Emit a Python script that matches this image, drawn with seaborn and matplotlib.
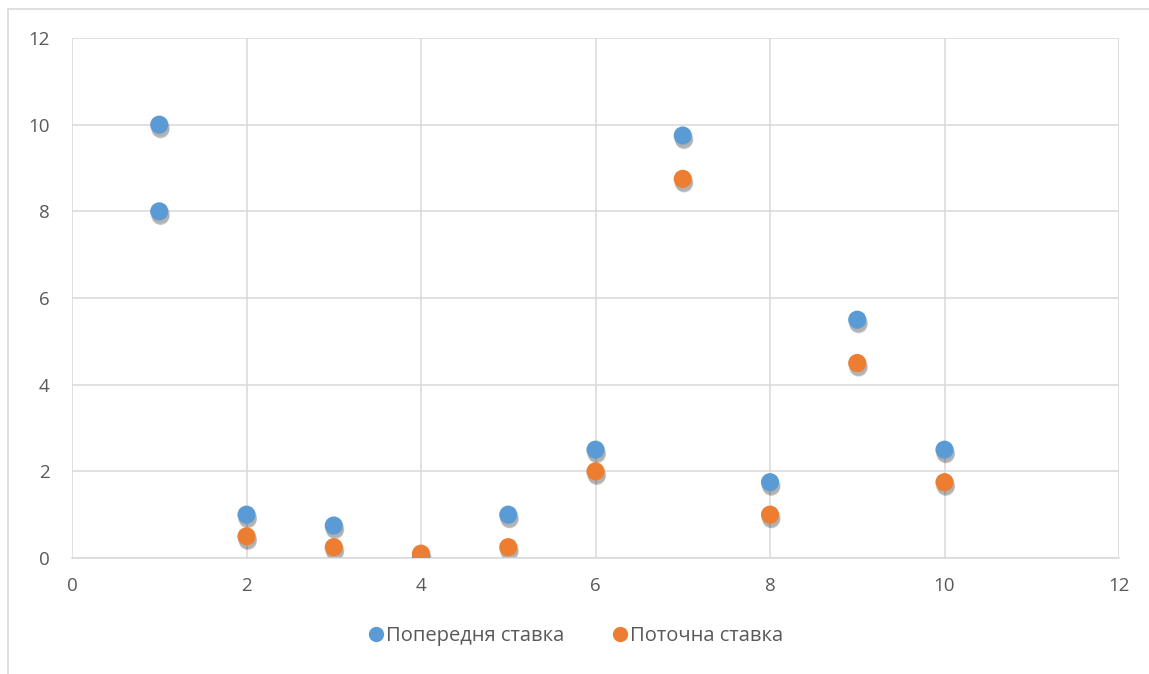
import matplotlib
matplotlib.use("Agg")
import matplotlib.pyplot as plt
import matplotlib.transforms as mtransforms
from matplotlib.lines import Line2D
import seaborn as sns
import pandas as pd

# Rates by item number
prev_x = [1, 1, 2, 3, 4, 5, 6, 7, 8, 9, 10]
prev_rate = [10, 8, 1, 0.75, 0, 1, 2.5, 9.75, 1.75, 5.5, 2.5]
curr_x = [2, 3, 4, 5, 6, 7, 8, 9, 10]
curr_rate = [0.5, 0.25, 0.1, 0.25, 2, 8.75, 1, 4.5, 1.75]

series_names = ["Попередня ставка", "Поточна ставка"]
colors = ["#5B9BD5", "#ED7D31"]
ticks = [0, 2, 4, 6, 8, 10, 12]

df = pd.concat([
    pd.DataFrame({"x": prev_x, "y": prev_rate, "series": series_names[0]}),
    pd.DataFrame({"x": curr_x, "y": curr_rate, "series": series_names[1]}),
])

sns.set_theme(style="white")
plt.rcParams["font.family"] = ["Open Sans", "DejaVu Sans"]

fig = plt.figure(figsize=(11.49, 6.74), dpi=100)
ax = fig.add_axes([72 / 1149, 1 - 558 / 674, (1119 - 72) / 1149, (558 - 38) / 674])

# Chart frame (left and top edges visible)
fig.add_artist(plt.Rectangle((8 / 1149, -0.1), 1.2, 1 - 9 / 674 + 0.1,
                             transform=fig.transFigure, fill=False,
                             edgecolor="#d9d9d9", linewidth=1.2, zorder=0))

ax.set_xlim(0, 12)
ax.set_ylim(0, 12)

# Soft drop shadow: faint dark copies of the markers, shifted down
for dx, dy, size, a in [(0.5, -1.5, 200, 0.06), (0.8, -2.5, 190, 0.08),
                        (1.0, -3.2, 170, 0.10), (1.0, -3.8, 150, 0.10)]:
    tr = mtransforms.offset_copy(ax.transData, fig=fig, x=dx, y=dy, units="points")
    ax.scatter(df["x"], df["y"], s=size, color="black", alpha=a,
               edgecolors="none", transform=tr, zorder=2)

sns.scatterplot(data=df, x="x", y="y", hue="series", palette=colors,
                s=170, edgecolor="none", linewidth=0, ax=ax, legend=False,
                zorder=3)

ax.set_xlim(0, 12)
ax.set_ylim(0, 12)
ax.set_xticks(ticks)
ax.set_yticks(ticks)
ax.set_xticklabels([str(t) for t in ticks])
ax.set_yticklabels([str(t) for t in ticks])
ax.grid(True, color="#d9d9d9", linewidth=1.1)
ax.set_axisbelow(True)
for side in ["left", "right", "top"]:
    ax.spines[side].set_visible(False)
ax.spines["bottom"].set_color("#d9d9d9")
ax.spines["bottom"].set_linewidth(1.1)
ax.tick_params(axis="both", length=0, labelsize=13.5, colors="#595959")
ax.tick_params(axis="x", pad=14)
ax.tick_params(axis="y", pad=16)
ax.set_xlabel("")
ax.set_ylabel("")

handles = [Line2D([], [], marker="o", linestyle="none", markersize=11,
                  markerfacecolor=c, markeredgecolor="none") for c in colors]
fig.legend(handles, series_names, loc="center", bbox_to_anchor=(0.5, 1 - 636 / 674),
           ncol=2, frameon=False, fontsize=14.5, labelcolor="#595959",
           handletextpad=0.0, columnspacing=2.3, handlelength=1.0)

fig.savefig("out.png", dpi=100)
